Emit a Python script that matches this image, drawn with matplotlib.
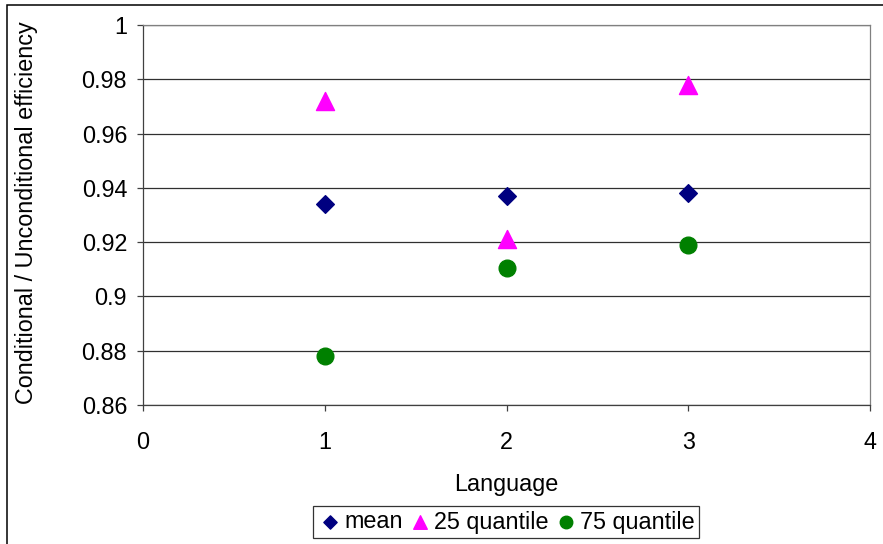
import matplotlib
matplotlib.use('Agg')
import matplotlib.pyplot as plt
from matplotlib.patches import Rectangle

plt.rcParams['font.family'] = ['Liberation Sans', 'DejaVu Sans']

# данные
language = [1, 2, 3]
mean_vals = [0.934, 0.937, 0.938]
q25_vals = [0.972, 0.921, 0.978]
q75_vals = [0.878, 0.9106, 0.919]

y_ticks = [0.86, 0.88, 0.90, 0.92, 0.94, 0.96, 0.98, 1.00]
x_ticks = [0, 1, 2, 3, 4]

fs = 16.8

fig = plt.figure(figsize=(8.83, 5.44), dpi=100)
ax = fig.add_axes([143 / 883, 1 - 405 / 544, (870 - 143) / 883, (405 - 25) / 544])

# внешняя рамка области диаграммы (обрезана справа и снизу)
fig.patches.append(Rectangle((7 / 883, -0.1), 1.2, 1.1 - 5 / 544, transform=fig.transFigure,
                             fill=False, edgecolor='black', linewidth=1.1))

ax.scatter(language, mean_vals, marker='D', s=9 ** 2, color='#000080', label='mean', zorder=3)
ax.scatter(language, q25_vals, marker='^', s=13 ** 2, color='#FF00FF', label='25 quantile', zorder=3)
ax.scatter(language, q75_vals, marker='o', s=12 ** 2, color='#008000', label='75 quantile', zorder=3)

ax.set_xlim(0, 4)
ax.set_ylim(0.86, 1.0)
ax.set_xticks(x_ticks)
ax.set_yticks(y_ticks)
ax.set_yticklabels([f'{v:g}' for v in y_ticks])
ax.yaxis.grid(True, color='#303030', linewidth=0.9)
ax.set_axisbelow(True)

ax.tick_params(direction='out', length=4.5, width=0.9, labelsize=fs, color='#404040')
ax.tick_params(axis='y', pad=7)
ax.tick_params(axis='x', pad=14)
ax.spines['left'].set_color('#404040')
ax.spines['bottom'].set_color('#404040')
ax.spines['top'].set_color('#808080')
ax.spines['right'].set_color('#808080')
for s in ax.spines.values():
    s.set_linewidth(0.9)

ax.set_xlabel('Language', fontsize=fs, labelpad=14)
fig.text(27 / 883, 1 - 213 / 544, 'Conditional / Unconditional efficiency', rotation=90,
         ha='center', va='center', fontsize=fs)

leg = fig.legend(loc='center', bbox_to_anchor=(506 / 883, 1 - 522 / 544), ncol=3,
                 fontsize=fs, frameon=True, fancybox=False, handletextpad=0.05,
                 columnspacing=0.2, handlelength=1.1, borderpad=0.2, borderaxespad=0,
                 markerscale=0.75)
leg.get_frame().set_edgecolor('black')
leg.get_frame().set_linewidth(0.9)

plt.savefig('out.png', dpi=100)
plt.close()
